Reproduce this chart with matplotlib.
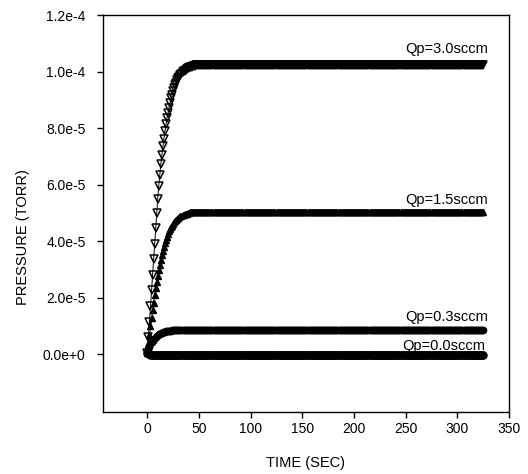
import numpy as np
import matplotlib as mpl
import matplotlib.pyplot as plt

mpl.rcParams['font.family'] = ['Liberation Sans', 'DejaVu Sans']
mpl.rcParams['font.size'] = 10
mpl.rcParams['axes.linewidth'] = 1.0

# time axis, one sample per second
time_sec = np.arange(0, 326)

# pressure readings (1e-6 torr) during the rise, then the plateau value
rise_30 = [0.5, 6, 11.5, 17, 22.5, 28, 33.5, 39, 44.5, 50, 55, 59.5, 63.5, 67.2, 70.5,
           73.5, 76.3, 78.9, 81.3, 83.5, 85.5, 87.3, 89, 90.5, 91.9, 93.1, 94.2, 95.2,
           96.1, 96.9, 97.6, 98.2, 98.8, 99.3, 99.7, 100.1, 100.4, 100.7, 101, 101.2,
           101.4, 101.6, 101.7, 101.8, 101.9, 102, 102.1, 102.2]
plateau_30 = 102.4

rise_15 = [0.5, 3.5, 6.8, 9.8, 12.7, 15.5, 18.2, 20.8, 23.3, 25.6, 27.8, 29.8, 31.7,
           33.4, 35, 36.5, 37.9, 39.2, 40.4, 41.5, 42.5, 43.4, 44.2, 44.9, 45.5, 46.1,
           46.6, 47.1, 47.5, 47.9, 48.2, 48.5, 48.8, 49, 49.2, 49.4, 49.5, 49.6, 49.7,
           49.8, 49.9]
plateau_15 = 50.3

rise_03 = [0.5, 1.6, 2.6, 3.4, 4.1, 4.7, 5.2, 5.7, 6.1, 6.4, 6.7, 7.0, 7.2, 7.4, 7.6,
           7.7, 7.8, 7.9, 8.0, 8.1, 8.2, 8.2, 8.3, 8.3, 8.4]
plateau_03 = 8.5

rise_00 = [0.5, 0.2, 0.0, -0.2, -0.3, -0.4, -0.5]
plateau_00 = -0.5


def series(rise, plateau):
    vals = rise + [plateau] * (len(time_sec) - len(rise))
    return np.array(vals) * 1e-6


qp_30 = series(rise_30, plateau_30)
qp_15 = series(rise_15, plateau_15)
qp_03 = series(rise_03, plateau_03)
qp_00 = series(rise_00, plateau_00)

x_ticks = [0, 50, 100, 150, 200, 250, 300, 350]
y_ticks = [0, 2e-5, 4e-5, 6e-5, 8e-5, 1e-4, 1.2e-4]
y_ticklabels = ['0.0e+0', '2.0e-5', '4.0e-5', '6.0e-5', '8.0e-5', '1.0e-4', '1.2e-4']

fig = plt.figure(figsize=(5.28, 4.74), dpi=100)
ax = fig.add_axes([0.195, 0.131, 0.769, 0.837])

ax.plot(time_sec, qp_00, color='black', lw=0.7, marker='o', ms=5,
        mfc='none', mec='black', mew=1.1)
ax.plot(time_sec, qp_03, color='black', lw=0.7, marker='o', ms=4.5,
        mfc='black', mec='black', mew=1.0)
ax.plot(time_sec, qp_15, color='black', lw=0.7, marker='^', ms=4.8,
        mfc='black', mec='black', mew=1.0)
ax.plot(time_sec, qp_30, color='black', lw=0.7, marker='v', ms=5.2,
        mfc='none', mec='black', mew=1.1)

ax.text(330, 1.055e-4, 'Qp=3.0sccm', ha='right', va='bottom', fontsize=10.5)
ax.text(330, 5.2e-5, 'Qp=1.5sccm', ha='right', va='bottom', fontsize=10.5)
ax.text(330, 1.08e-5, 'Qp=0.3sccm', ha='right', va='bottom', fontsize=10.5)
ax.text(327, 0.3e-6, 'Qp=0.0sccm', ha='right', va='bottom', fontsize=10.5)

ax.set_xlim(-43, 350)
ax.set_ylim(-2.05e-5, 1.2e-4)
ax.set_xticks(x_ticks)
ax.set_yticks(y_ticks)
ax.set_yticklabels(y_ticklabels)
ax.tick_params(direction='out', length=4.5, width=1.0)
ax.tick_params(axis='x', pad=3)
ax.tick_params(axis='y', pad=8)

ax.set_xlabel('TIME (SEC)', fontsize=10.5, labelpad=14)
ax.set_ylabel('PRESSURE (TORR)', fontsize=10.5, labelpad=9, y=0.44)

plt.savefig('out.png', dpi=100)
